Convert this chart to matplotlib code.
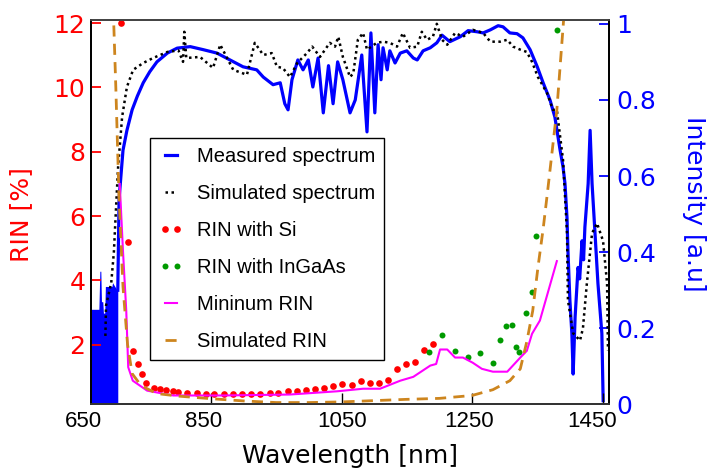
import matplotlib
matplotlib.use('Agg')
import matplotlib.pyplot as plt
import matplotlib.transforms as mtransforms

# measured spectrum (right axis) - noisy part below 707 nm, then the main curve
noise_wl = [666, 678, 679.5, 681, 682, 684, 685, 687, 688, 698, 699, 706, 707]
noise_top = [0.25, 0.25, 0.35, 0.35, 0.27, 0.27, 0.24, 0.24, 0.31, 0.31, 0.32, 0.30, 0.30]

meas_wl = [707, 709, 715, 721, 729, 737, 746, 756, 767, 783, 798, 818, 838, 859, 879, 899,
           920, 930, 945, 956, 963, 968, 974, 983, 991, 999, 1006, 1014, 1022, 1030, 1037,
           1044, 1052, 1063, 1071, 1081, 1089, 1095, 1101, 1106, 1110.5, 1113.6, 1120, 1124,
           1132, 1140, 1150, 1160, 1166, 1175, 1186, 1196, 1204, 1216, 1232, 1244, 1258, 1267,
           1278, 1290, 1297.5, 1308, 1319, 1328, 1339, 1350, 1359, 1369.5, 1377, 1385, 1389.5,
           1392.5, 1395.6, 1397, 1400, 1403, 1405, 1408, 1412.5, 1415, 1418.6, 1421, 1423,
           1428, 1431, 1434, 1438.5, 1443, 1449, 1451]
meas_int = [0.30, 0.54, 0.668, 0.72, 0.774, 0.81, 0.845, 0.874, 0.90, 0.923, 0.936, 0.94,
            0.932, 0.923, 0.905, 0.887, 0.879, 0.86, 0.84, 0.845, 0.79, 0.774, 0.853, 0.905,
            0.879, 0.905, 0.834, 0.91, 0.766, 0.89, 0.79, 0.90, 0.853, 0.766, 0.80, 0.918,
            0.716, 0.976, 0.766, 0.945, 0.853, 0.937, 0.879, 0.929, 0.897, 0.923, 0.929, 0.91,
            0.905, 0.929, 0.937, 0.95, 0.97, 0.953, 0.966, 0.982, 0.979, 0.976, 0.984, 0.995,
            0.992, 0.976, 0.974, 0.963, 0.932, 0.887, 0.845, 0.80, 0.755, 0.668, 0.624, 0.58,
            0.49, 0.405, 0.274, 0.187, 0.08, 0.23, 0.36, 0.33, 0.43, 0.38, 0.466, 0.58, 0.72,
            0.58, 0.45, 0.318, 0.187, 0.01]

# simulated spectrum (right axis)
sim_wl = [688, 689, 697, 701, 705, 707.5, 713.6, 721, 730.5, 746, 761, 783, 800, 807, 809,
          812, 833, 853, 864, 884, 905, 917, 930, 943, 951, 960, 971, 982, 997, 1005, 1017,
          1032, 1040, 1045, 1052, 1063, 1068, 1075, 1083, 1089, 1104, 1114, 1124, 1135, 1144,
          1155, 1166, 1173, 1181, 1190, 1196, 1204, 1212, 1224, 1236, 1251.5, 1267, 1278,
          1293, 1304, 1313, 1324, 1334, 1342, 1351, 1365, 1374, 1380, 1389.5, 1395.6, 1397,
          1405, 1415.5, 1420, 1426, 1434, 1441.6, 1450.8, 1457, 1458.4]
sim_int = [0.18, 0.26, 0.32, 0.40, 0.54, 0.624, 0.755, 0.834, 0.879, 0.897, 0.91, 0.926,
           0.93, 0.90, 0.979, 0.91, 0.913, 0.884, 0.945, 0.879, 0.866, 0.95, 0.918, 0.923,
           0.887, 0.884, 0.86, 0.897, 0.923, 0.94, 0.913, 0.95, 0.94, 0.966, 0.913, 0.86,
           0.87, 0.958, 0.976, 0.932, 0.95, 0.953, 0.95, 0.94, 0.976, 0.937, 0.94, 0.979,
           0.958, 0.966, 1.0, 0.958, 0.945, 0.976, 0.966, 0.984, 0.976, 0.953, 0.953, 0.958,
           0.94, 0.932, 0.926, 0.90, 0.86, 0.818, 0.774, 0.774, 0.642, 0.45, 0.274, 0.187,
           0.168, 0.20, 0.318, 0.45, 0.476, 0.43, 0.318, 0.142]

# RIN with Si detector (left axis)
si_wl = [712, 723, 730.5, 738, 744, 750, 762.6, 772, 781, 792, 799, 813, 828.5, 842, 854.6,
         870, 883.7, 897.5, 911, 925, 940, 952.7, 968, 982, 995.6, 1009, 1023, 1037, 1050.8,
         1066, 1080, 1093.7, 1107.5, 1121, 1135, 1149, 1162.6, 1176, 1190]
si_rin = [12.0, 5.2, 1.8, 1.4, 1.1, 0.82, 0.66, 0.63, 0.60, 0.57, 0.54, 0.51, 0.50, 0.48,
          0.48, 0.48, 0.48, 0.48, 0.48, 0.48, 0.50, 0.51, 0.55, 0.57, 0.60, 0.63, 0.66, 0.70,
          0.79, 0.76, 0.88, 0.82, 0.82, 0.91, 1.25, 1.40, 1.47, 1.85, 2.03]

# RIN with InGaAs detector
ingaas_wl = [1184, 1204, 1224, 1244, 1262, 1282, 1293, 1302, 1311, 1317.4, 1322, 1333, 1342,
             1348, 1380]
ingaas_rin = [1.78, 2.31, 1.81, 1.63, 1.75, 1.44, 2.16, 2.59, 2.62, 1.94, 1.78, 2.99, 3.65,
              5.37, 11.8]

# minimum RIN
min_wl = [710, 715, 720, 723, 730, 752, 792, 868, 971, 1043, 1083, 1109, 1140, 1160, 1186,
          1195, 1201, 1212, 1224, 1236, 1251, 1265, 1282, 1304, 1324, 1334, 1342, 1354, 1380]
min_rin = [7.0, 4.9, 3.05, 1.3, 0.88, 0.57, 0.42, 0.42, 0.45, 0.55, 0.63, 0.63, 0.88, 1.0,
           1.35, 1.4, 1.85, 1.85, 1.6, 1.6, 1.44, 1.25, 1.16, 1.16, 1.6, 1.81, 2.34, 2.75, 4.6]

# simulated RIN
simrin_wl = [700, 704, 709, 715, 722, 729, 740, 749, 767, 800, 850, 900, 950, 1000, 1050,
             1100, 1150, 1200, 1250, 1282, 1308, 1324, 1334, 1343, 1351, 1359, 1366, 1380,
             1390, 1395]
simrin_rin = [12.5, 10.0, 6.5, 3.8, 2.0, 1.1, 0.8, 0.66, 0.48, 0.40, 0.32, 0.25, 0.20, 0.20,
              0.22, 0.26, 0.30, 0.33, 0.42, 0.60, 0.88, 1.25, 2.1, 3.05, 4.4, 5.6, 6.8, 9.3,
              12.0, 13.5]

xtick_vals = [850, 1050, 1250, 1450]
xlabel_text = ['650', '850', '1050', '1250', '1450']
xlabel_pos = [654, 838, 1051, 1245, 1434]
rin_ticks = [2, 4, 6, 8, 10, 12]
int_ticks = [0, 0.2, 0.4, 0.6, 0.8, 1]
int_labels = ['0', '0.2', '0.4', '0.6', '0.8', '1']

blue = '#0000ff'
red = '#ff0000'
orange = '#cd851e'

fig = plt.figure(figsize=(7.09, 4.70), dpi=100)
ax = fig.add_axes([0.1284, 0.1394, 0.7306, 0.8181])
ax2 = ax.twinx()
ax.set_zorder(ax2.get_zorder() + 1)
ax.patch.set_visible(False)

# intensity axis
ax2.fill_between(noise_wl, 0, noise_top, color=blue, lw=0)
h_meas, = ax2.plot(meas_wl, meas_int, color=blue, lw=2.3, label='Measured spectrum')
h_sim, = ax2.plot(sim_wl, sim_int, color='black', lw=1.8, ls=(0, (1, 1.4)),
                  label='Simulated spectrum')
ax2.set_ylim(0, 1.01)
ax2.set_yticks(int_ticks)
ax2.set_yticklabels(int_labels)
ax2.tick_params(axis='y', direction='in', colors=blue, length=7, width=1.3, pad=5,
                labelsize=18)
for t in ax2.get_yticklabels():
    t.set_family('DejaVu Sans')
ax2.set_ylabel('Intensity [a.u]', color=blue, fontsize=18, family='DejaVu Sans')
ax2.yaxis.label.set(rotation=270, va='bottom', ha='center', rotation_mode='anchor')
ax2.yaxis.set_label_coords(1.141, 0.523)

# RIN axis
h_si, = ax.plot(si_wl, si_rin, 'o', color=red, ms=4.8, mew=0, label='RIN with Si',
                clip_on=False)
h_in, = ax.plot(ingaas_wl, ingaas_rin, 'o', color='#009a00', ms=4.3, mew=0,
                label='RIN with InGaAs')
h_min, = ax.plot(min_wl, min_rin, color='#ff00ff', lw=1.5, label='Mininum RIN')
h_srin, = ax.plot(simrin_wl, simrin_rin, color=orange, lw=2, ls=(0, (4, 2.6)),
                  label='Simulated RIN')
ax.set_xlim(666, 1460)
ax.set_ylim(0.14, 12.1)
ax.set_yticks(rin_ticks)
ax.tick_params(axis='y', direction='in', colors=red, length=7, width=1.3, pad=4,
               labelsize=18)
ax.set_ylabel('RIN [%]', color=red, fontsize=18, family='DejaVu Sans')
ax.yaxis.label.set(va='bottom', rotation_mode='anchor')
ax.yaxis.set_label_coords(-0.112, 0.495)

# x ticks: marks at the tick values, labels as text where the reference prints them
ax.set_xticks(xtick_vals)
ax.set_xticklabels([])
ax.tick_params(axis='x', direction='in', length=8, width=1)
ax2.tick_params(axis='x', which='both', length=0)
trans = mtransforms.blended_transform_factory(ax.transData, ax.transAxes)
for pos, txt in zip(xlabel_pos, xlabel_text):
    ax.text(pos, -0.018, txt, transform=trans, ha='center', va='top',
            family='Liberation Sans', fontsize=16)
ax.set_xlabel('Wavelength [nm]', fontsize=18, family='DejaVu Sans')
ax.xaxis.set_label_coords(0.5, -0.104)

for a in (ax, ax2):
    a.spines['left'].set_color('black')
    a.spines['right'].set_color('black')
    a.spines['top'].set_color('#444444')
    a.spines['bottom'].set_color('#333333')
    for s in a.spines.values():
        s.set_linewidth(1.3)

leg = ax.legend([h_meas, h_sim, h_si, h_in, h_min, h_srin],
                ['Measured spectrum', 'Simulated spectrum', 'RIN with Si',
                 'RIN with InGaAs', 'Mininum RIN', 'Simulated RIN'],
                loc='upper left', bbox_to_anchor=(0.114, 0.693), borderaxespad=0,
                prop={'family': 'Liberation Sans', 'size': 14.5}, numpoints=2,
                handlelength=1.2, handletextpad=0.7, labelspacing=0.9, borderpad=0.43,
                fancybox=False, framealpha=1, edgecolor='black')
leg.get_frame().set_linewidth(1.0)

fig.savefig('out.png', dpi=100)
